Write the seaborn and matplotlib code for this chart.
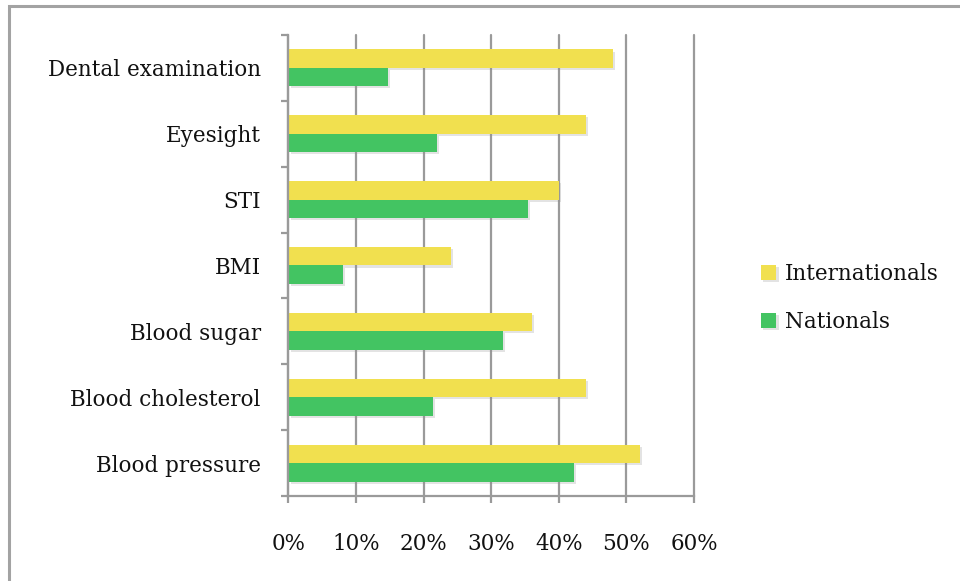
import matplotlib
matplotlib.use("Agg")
import matplotlib.pyplot as plt
import matplotlib.patheffects as pe
from matplotlib.patches import Rectangle
from matplotlib.ticker import FixedLocator, PercentFormatter
import seaborn as sns
import pandas as pd

# Survey results: share of respondents who had each health check
categories = ["Dental examination", "Eyesight", "STI", "BMI",
              "Blood sugar", "Blood cholesterol", "Blood pressure"]
internationals = [48, 44, 40, 24, 36, 44, 52]
nationals = [14.7, 22, 35.5, 8, 31.8, 21.4, 42.2]
series_names = ["Internationals", "Nationals"]
series_colors = ["#F1E04F", "#43C462"]
x_ticks = [0, 10, 20, 30, 40, 50, 60]

df = pd.DataFrame({
    "category": categories * 2,
    "value": internationals + nationals,
    "group": [series_names[0]] * len(categories) + [series_names[1]] * len(categories),
})

sns.set_theme(style="white")
plt.rcParams["font.family"] = ["DejaVu Serif"]

FS = 15.5
fig = plt.figure(figsize=(9.6, 5.81), dpi=100)
ax = fig.add_axes([0.3005, 0.1463, 0.4224, 0.7935])

grid_gray = "#9a9a9a"
ax.set_axisbelow(True)
ax.xaxis.grid(True, color=grid_gray, linewidth=1.6)

sns.barplot(data=df, y="category", x="value", hue="group", order=categories,
            hue_order=series_names, palette=series_colors, width=0.56,
            orient="h", saturation=1, dodge=True, ax=ax, legend=True)

shadow = [pe.SimplePatchShadow(offset=(1.5, -1.5), shadow_rgbFace="#909090", alpha=0.25),
          pe.Normal()]
for patch in ax.patches:
    patch.set_edgecolor("none")
    patch.set_path_effects(shadow)

ax.set_xlim(0, 60)
ax.set_ylim(len(categories) - 0.5, -0.5)
ax.set_xticks(x_ticks)
ax.xaxis.set_major_formatter(PercentFormatter(decimals=0))
ax.set_xlabel("")
ax.set_ylabel("")
for gl in ax.get_xgridlines():
    gl.set_clip_on(False)

for side in ("top", "right"):
    ax.spines[side].set_visible(False)
for side in ("left", "bottom"):
    ax.spines[side].set_color(grid_gray)
    ax.spines[side].set_linewidth(1.6)

ax.tick_params(axis="x", which="major", direction="out", length=5, width=1.6,
               color=grid_gray, pad=22, labelsize=FS, labelcolor="#111111",
               bottom=True)
ax.tick_params(axis="y", which="major", length=0, pad=20, labelsize=FS,
               labelcolor="#111111", left=True)
ax.yaxis.set_minor_locator(FixedLocator([i - 0.5 for i in range(len(categories) + 1)]))
ax.tick_params(axis="y", which="minor", direction="out", length=5, width=1.6,
               color=grid_gray, left=True)

leg = ax.legend(loc="center left", bbox_to_anchor=(1.145, 0.43), frameon=False,
                fontsize=FS, handlelength=0.7, handleheight=0.7,
                handletextpad=0.4, labelspacing=1.2, borderaxespad=0)
for txt in leg.get_texts():
    txt.set_color("#111111")

# Outer chart frame
fig.patches.append(Rectangle((9 / 960, -0.05), 1.2, 1 + 0.05 - 6 / 581,
                             transform=fig.transFigure, fill=False,
                             edgecolor="#a3a3a3", linewidth=2.2, zorder=10))

fig.savefig("out.png", dpi=100, facecolor="white")
